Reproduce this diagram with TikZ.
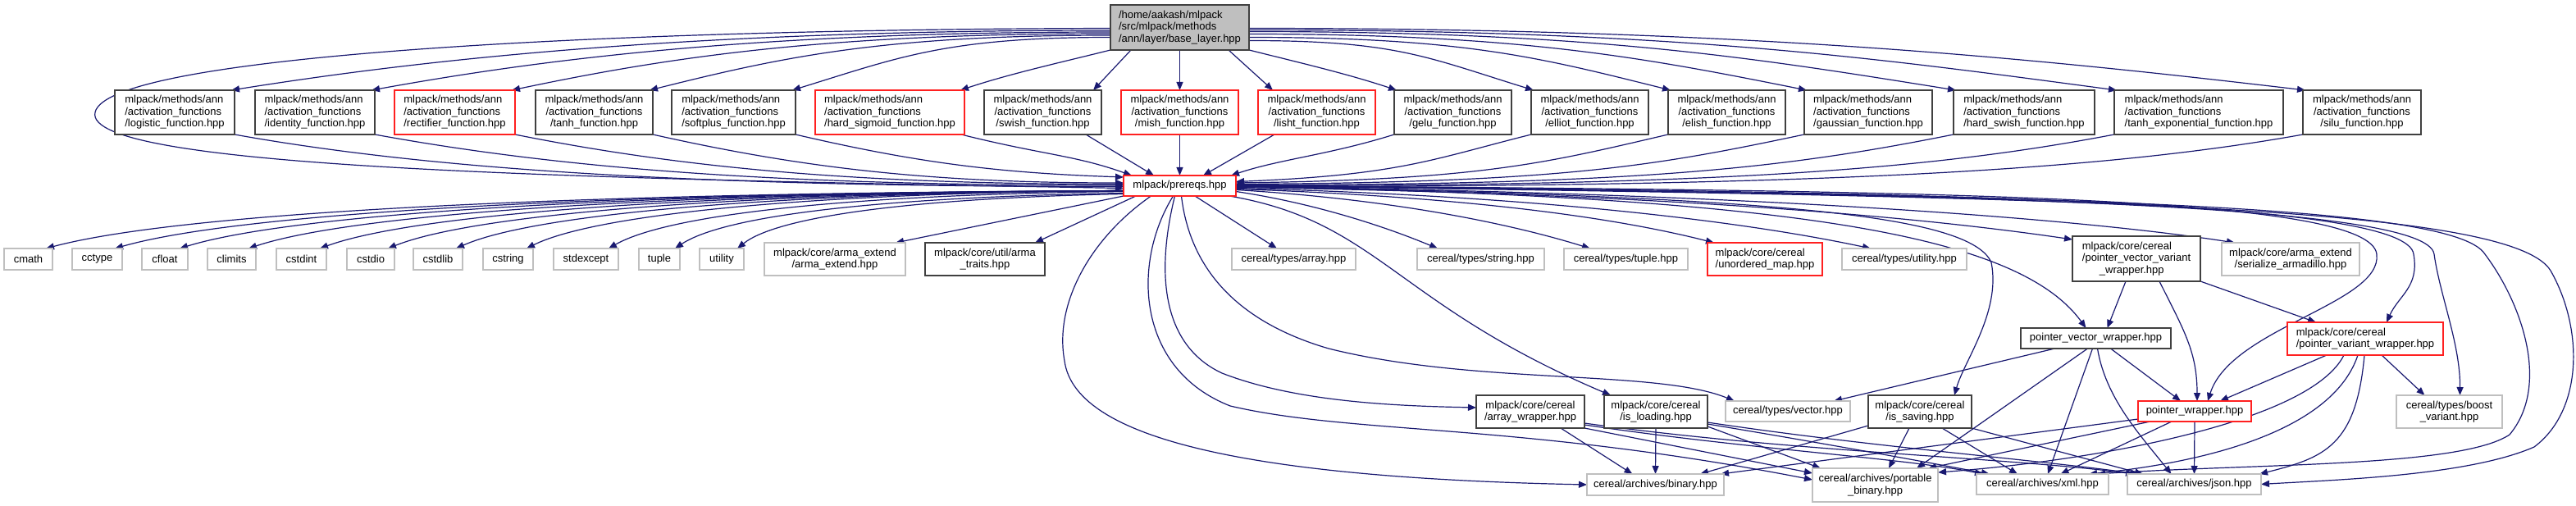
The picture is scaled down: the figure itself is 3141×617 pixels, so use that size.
\documentclass[tikz,border=0pt]{standalone}
\usepackage{fontspec}
\setmainfont{Liberation Sans}
\usetikzlibrary{arrows.meta}
\definecolor{ecol}{HTML}{191970}
\definecolor{gcol}{HTML}{BFBFBF}
\definecolor{dcol}{HTML}{404040}
\definecolor{rcol}{HTML}{FF2020}
\definecolor{basefill}{HTML}{BFBFBF}
\pgfdeclarelayer{bg}
\pgfsetlayers{bg,main}
\newcommand\gfnt{\fontsize{13}{14.5}\selectfont}
\tikzset{
  lbl/.style={inner sep=0pt, outer sep=0pt, font=\gfnt, fill=white, align=center},
  gbox/.style={lbl, draw=gcol, line width=1.6pt},
  dbox/.style={lbl, draw=dcol, line width=2pt},
  rbox/.style={lbl, draw=rcol, line width=1.6pt},
  bbox/.style={lbl, draw=dcol, fill=basefill, line width=2pt},
  wh/.style 2 args={minimum width=#1pt, minimum height=#2pt},
  lft/.style={align=left},
  conn/.style={draw=ecol, line width=1.2pt, -{Triangle[length=10pt,width=8pt]}},
}
\begin{document}
\begin{tikzpicture}[x=1pt,y=-1pt]
\useasboundingbox (0,0) rectangle (3141,617);
% ---------- nodes ----------
\node[bbox, lft, wh={169}{55}] (base) at (1438.5,33.5) {/home/aakash/mlpack\\/src/mlpack/methods\\/ann/layer/base\_layer.hpp};
\node[dbox, lft, wh={146}{54}] (logistic) at (213,137) {mlpack/methods/ann\\/activation\_functions\\/logistic\_function.hpp};
\node[dbox, lft, wh={146}{54}] (identity) at (384,137) {mlpack/methods/ann\\/activation\_functions\\/identity\_function.hpp};
\node[rbox, lft, wh={147}{54}] (rectifier) at (554.5,137) {mlpack/methods/ann\\/activation\_functions\\/rectifier\_function.hpp};
\node[dbox, wh={143}{54}] (tanh) at (724.5,137) {mlpack/methods/ann\\/activation\_functions\\/tanh\_function.hpp};
\node[dbox, lft, wh={151}{54}] (softplus) at (894.5,137) {mlpack/methods/ann\\/activation\_functions\\/softplus\_function.hpp};
\node[rbox, lft, wh={182}{54}] (hardsig) at (1085,137) {mlpack/methods/ann\\/activation\_functions\\/hard\_sigmoid\_function.hpp};
\node[dbox, wh={143}{54}] (swish) at (1271.5,137) {mlpack/methods/ann\\/activation\_functions\\/swish\_function.hpp};
\node[rbox, wh={143}{54}] (mish) at (1438.5,137) {mlpack/methods/ann\\/activation\_functions\\/mish\_function.hpp};
\node[rbox, wh={143}{54}] (lisht) at (1605.5,137) {mlpack/methods/ann\\/activation\_functions\\/lisht\_function.hpp};
\node[dbox, wh={143}{54}] (gelu) at (1771.5,137) {mlpack/methods/ann\\/activation\_functions\\/gelu\_function.hpp};
\node[dbox, wh={143}{54}] (elliot) at (1938.5,137) {mlpack/methods/ann\\/activation\_functions\\/elliot\_function.hpp};
\node[dbox, wh={143}{54}] (elish) at (2105.5,137) {mlpack/methods/ann\\/activation\_functions\\/elish\_function.hpp};
\node[dbox, lft, wh={156}{54}] (gaussian) at (2278,137) {mlpack/methods/ann\\/activation\_functions\\/gaussian\_function.hpp};
\node[dbox, lft, wh={172}{54}] (hardswish) at (2468,137) {mlpack/methods/ann\\/activation\_functions\\/hard\_swish\_function.hpp};
\node[dbox, lft, wh={206}{54}] (tanhexp) at (2681,137) {mlpack/methods/ann\\/activation\_functions\\/tanh\_exponential\_function.hpp};
\node[dbox, wh={144}{54}] (silu) at (2880,137) {mlpack/methods/ann\\/activation\_functions\\/silu\_function.hpp};
\node[rbox, wh={137}{25}] (prereqs) at (1438.5,226.5) {mlpack/prereqs.hpp};
% row 3
\node[gbox, wh={59}{26}] (cmath) at (34.5,316) {cmath};
\node[gbox, wh={61}{26}] (cctype) at (118.5,316) {cctype};
\node[gbox, wh={56}{26}] (cfloat) at (201,316) {cfloat};
\node[gbox, wh={59}{26}] (climits) at (282.5,316) {climits};
\node[gbox, wh={61}{26}] (cstdint) at (367.5,316) {cstdint};
\node[gbox, wh={58}{26}] (cstdio) at (452,316) {cstdio};
\node[gbox, wh={60}{26}] (cstdlib) at (534,316) {cstdlib};
\node[gbox, wh={61}{26}] (cstring) at (619.5,316) {cstring};
\node[gbox, wh={79}{26}] (stdexcept) at (714.5,316) {stdexcept};
\node[gbox, wh={50}{26}] (tuple) at (804,316) {tuple};
\node[gbox, wh={54}{26}] (utility) at (880,316) {utility};
\node[gbox, wh={172}{40}] (armaext) at (1018,316) {mlpack/core/arma\_extend\\/arma\_extend.hpp};
\node[dbox, wh={146}{40}] (armatraits) at (1201,316) {mlpack/core/util/arma\\\_traits.hpp};
\node[gbox, wh={151}{26}] (array) at (1577.5,316) {cereal/types/array.hpp};
\node[gbox, wh={155}{26}] (string) at (1805.5,316) {cereal/types/string.hpp};
\node[gbox, wh={151}{26}] (tuplehpp) at (1982.5,316) {cereal/types/tuple.hpp};
\node[rbox, lft, wh={140}{40}] (unordered) at (2152,316) {mlpack/core/cereal\\/unordered\_map.hpp};
\node[gbox, wh={152}{26}] (utilityhpp) at (2322,316) {cereal/types/utility.hpp};
\node[dbox, lft, wh={156}{55}] (pvvw) at (2605,315.5) {mlpack/core/cereal\\/pointer\_vector\_variant\\\hspace*{21pt}\_wrapper.hpp};
\node[gbox, wh={168}{40}] (serialize) at (2793,316) {mlpack/core/arma\_extend\\/serialize\_armadillo.hpp};
% row 4
\node[dbox, wh={183}{25}] (pvectorw) at (2555.5,412.5) {pointer\_vector\_wrapper.hpp};
\node[rbox, lft, wh={190}{40}] (pvw) at (2884,413) {mlpack/core/cereal\\/pointer\_variant\_wrapper.hpp};
% row 5
\node[dbox, wh={132}{40}] (arrwrap) at (1866,502) {mlpack/core/cereal\\/array\_wrapper.hpp};
\node[dbox, wh={126}{40}] (isload) at (2019,502) {mlpack/core/cereal\\/is\_loading.hpp};
\node[gbox, wh={152}{25}] (vector) at (2180,501.5) {cereal/types/vector.hpp};
\node[dbox, wh={126}{40}] (issave) at (2341,502) {mlpack/core/cereal\\/is\_saving.hpp};
\node[rbox, wh={138}{25}] (ptrwrap) at (2676,501.5) {pointer\_wrapper.hpp};
\node[gbox, wh={129}{40}] (boost) at (2986.5,502) {cereal/types/boost\\\_variant.hpp};
% row 6
\node[gbox, wh={167}{26}] (binary) at (2018.5,591) {cereal/archives/binary.hpp};
\node[gbox, wh={153}{41}] (portable) at (2286.5,591.5) {cereal/archives/portable\\\_binary.hpp};
\node[gbox, wh={161}{25}] (xml) at (2490.5,590.5) {cereal/archives/xml.hpp};
\node[gbox, wh={163}{25}] (json) at (2675.5,590.5) {cereal/archives/json.hpp};
% waypoints
\coordinate (loopL) at (116,137);
\coordinate (isW) at (2428,320);
\coordinate (pwW) at (2898,310);
\coordinate (pvwW) at (2943,310);
\coordinate (bW) at (2968,310);
\coordinate (xW1) at (3030,310);
\coordinate (xW2) at (3060,530);
\coordinate (jW1) at (3110,330);
\coordinate (jW2) at (3090,545);
\coordinate (bnW) at (1298,440);
\coordinate (ptW) at (1500,495);
\coordinate (awW) at (1490,455);
\coordinate (vW) at (1620,425);
% ---------- edges ----------
\begin{pgfonlayer}{bg}
% base -> activation functions
\draw[conn] ([yshift=-3.5pt]base.west) .. controls +(-500,0) and +(250,-40) .. ([xshift=-4pt]logistic.north east);
\draw[conn] ([yshift=-5.5pt]base.west) .. controls +(-420,0) and +(220,-40) .. ([xshift=-4pt]identity.north east);
\draw[conn] ([yshift=-7.5pt]base.west) .. controls +(-350,0) and +(190,-40) .. ([xshift=-4pt]rectifier.north east);
\draw[conn] ([yshift=-9.5pt]base.west) .. controls +(-280,0) and +(160,-40) .. ([xshift=-4pt]tanh.north east);
\draw[conn] ([yshift=-12pt]base.west) .. controls +(-200,0) and +(130,-40) .. ([xshift=-4pt]softplus.north east);
\draw[conn] (base.south west) .. controls +(-60,15) and +(60,-20) .. ([xshift=-5pt]hardsig.north east);
\draw[conn] ([xshift=25pt]base.south west) -- ([xshift=-10pt]swish.north east);
\draw[conn] (base.south) -- (mish.north);
\draw[conn] ([xshift=-25pt]base.south east) -- ([xshift=18pt]lisht.north west);
\draw[conn] (base.south east) .. controls +(60,15) and +(-60,-20) .. ([xshift=3pt]gelu.north west);
\draw[conn] ([yshift=-16pt]base.east) .. controls +(180,0) and +(-130,-40) .. ([xshift=3pt]elliot.north west);
\draw[conn] ([yshift=-12pt]base.east) .. controls +(260,0) and +(-160,-40) .. ([xshift=3pt]elish.north west);
\draw[conn] ([yshift=-8pt]base.east) .. controls +(330,0) and +(-200,-40) .. ([xshift=3pt]gaussian.north west);
\draw[conn] ([yshift=-5pt]base.east) .. controls +(420,0) and +(-250,-40) .. ([xshift=3pt]hardswish.north west);
\draw[conn] ([yshift=-3pt]base.east) .. controls +(520,0) and +(-300,-40) .. ([xshift=3pt]tanhexp.north west);
\draw[conn] ([yshift=-1pt]base.east) .. controls +(600,0) and +(-340,-40) .. ([xshift=3pt]silu.north west);
% base -> prereqs (loop)
\draw[conn] ([yshift=-1pt]base.west) .. controls (700,36) and (130,70) .. (loopL) .. controls (100,205) and (700,218) .. ([yshift=-3pt]prereqs.west);
% activation functions -> prereqs
\draw[conn] (logistic.south east) .. controls +(250,45) and +(-500,0) .. ([yshift=-1pt]prereqs.west);
\draw[conn] (identity.south east) .. controls +(230,42) and +(-420,0) .. ([yshift=0.5pt]prereqs.west);
\draw[conn] (rectifier.south east) .. controls +(200,40) and +(-330,0) .. ([yshift=2pt]prereqs.west);
\draw[conn] (tanh.south east) .. controls +(170,38) and +(-250,0) .. ([yshift=3.5pt]prereqs.west);
\draw[conn] (softplus.south east) .. controls +(150,35) and +(-150,-5) .. ([yshift=-2pt]prereqs.north west);
\draw[conn] ([xshift=-4pt]hardsig.south east) .. controls +(100,25) and +(-70,-25) .. ([xshift=10pt]prereqs.north west);
\draw[conn] ([xshift=-19pt]swish.south east) -- ([xshift=37pt]prereqs.north west);
\draw[conn] (mish.south) -- (prereqs.north);
\draw[conn] ([xshift=20pt]lisht.south west) -- ([xshift=-40pt]prereqs.north east);
\draw[conn] (gelu.south west) .. controls +(-80,25) and +(60,-20) .. ([xshift=-6pt]prereqs.north east);
\draw[conn] (elliot.south west) .. controls +(-120,30) and +(200,-8) .. ([yshift=5pt]prereqs.east);
\draw[conn] (elish.south west) .. controls +(-150,35) and +(300,-4) .. ([yshift=3.5pt]prereqs.east);
\draw[conn] (gaussian.south west) .. controls +(-180,38) and +(400,-2) .. ([yshift=2pt]prereqs.east);
\draw[conn] (hardswish.south west) .. controls +(-200,40) and +(500,0) .. ([yshift=1pt]prereqs.east);
\draw[conn] (tanhexp.south west) .. controls +(-220,42) and +(600,0) .. (prereqs.east);
\draw[conn] (silu.south west) .. controls +(-250,45) and +(700,0) .. ([yshift=-1pt]prereqs.east);
% prereqs -> left row
\draw[conn] ([yshift=-6pt]prereqs.west) .. controls +(-750,3) and +(150,-40) .. ([xshift=-8pt]cmath.north east);
\draw[conn] ([yshift=-6pt]prereqs.west) .. controls +(-700,3) and +(140,-40) .. ([xshift=-9pt]cctype.north east);
\draw[conn] ([yshift=-6pt]prereqs.west) .. controls +(-650,3) and +(130,-40) .. ([xshift=-10pt]cfloat.north east);
\draw[conn] ([yshift=-6pt]prereqs.west) .. controls +(-600,3) and +(120,-40) .. ([xshift=-9pt]climits.north east);
\draw[conn] ([yshift=-6pt]prereqs.west) .. controls +(-550,3) and +(110,-40) .. ([xshift=-8pt]cstdint.north east);
\draw[conn] ([yshift=-6pt]prereqs.west) .. controls +(-500,3) and +(100,-40) .. ([xshift=-8pt]cstdio.north east);
\draw[conn] ([yshift=-6pt]prereqs.west) .. controls +(-450,3) and +(90,-40) .. ([xshift=-8pt]cstdlib.north east);
\draw[conn] ([yshift=-6pt]prereqs.west) .. controls +(-400,3) and +(80,-40) .. ([xshift=-8pt]cstring.north east);
\draw[conn] ([yshift=-7pt]prereqs.west) .. controls +(-350,4) and +(70,-40) .. ([xshift=-12pt]stdexcept.north east);
\draw[conn] ([yshift=-9pt]prereqs.west) .. controls +(-300,5) and +(60,-40) .. ([xshift=-6pt]tuple.north east);
\draw[conn] ([yshift=-10pt]prereqs.west) .. controls +(-250,5) and +(50,-40) .. ([xshift=-8pt]utility.north east);
\draw[conn] (prereqs.south west) -- ([xshift=-12pt]armaext.north east);
\draw[conn] ([xshift=15pt]prereqs.south west) -- ([xshift=-12pt]armatraits.north east);
\draw[conn] ([xshift=-50pt]prereqs.south east) -- ([xshift=55pt]array.north west);
% prereqs -> right row
\draw[conn] ([yshift=-7pt]prereqs.east) .. controls +(100,15) and +(-60,-25) .. ([xshift=25pt]string.north west);
\draw[conn] ([yshift=-5pt]prereqs.east) .. controls +(200,12) and +(-90,-28) .. ([xshift=32pt]tuplehpp.north west);
\draw[conn] ([yshift=-4pt]prereqs.east) .. controls +(300,10) and +(-110,-28) .. ([xshift=8pt]unordered.north west);
\draw[conn] ([yshift=-3pt]prereqs.east) .. controls +(400,10) and +(-130,-28) .. ([xshift=35pt]utilityhpp.north west);
\draw[conn] ([yshift=-2pt]prereqs.east) .. controls +(550,8) and +(-170,-25) .. ([yshift=-4pt]pvvw.north west);
\draw[conn] ([yshift=-1pt]prereqs.east) .. controls +(650,8) and +(-180,-28) .. ([xshift=16pt]serialize.north west);
\draw[conn] ([yshift=-1pt]prereqs.east) .. controls +(700,12) and +(-80,-110) .. ([xshift=-12pt]pvectorw.north);
\draw[conn] (prereqs.east) .. controls (2100,240) and (2400,255) .. (isW) .. controls (2440,380) and (2395,440) .. ([xshift=42pt]issave.north);
\draw[conn] (prereqs.east) .. controls (2400,232) and (2890,240) .. (pwW) .. controls (2905,370) and (2720,400) .. ([xshift=16pt]ptrwrap.north);
\draw[conn] (prereqs.east) .. controls (2400,234) and (2935,245) .. (pvwW) .. controls (2950,350) and (2925,360) .. ([xshift=26pt]pvw.north);
\draw[conn] (prereqs.east) .. controls (2400,236) and (2960,248) .. (bW) .. controls (2975,360) and (3000,420) .. ([xshift=13pt]boost.north);
\draw[conn] (prereqs.east) .. controls (2450,238) and (2990,245) .. (xW1) .. controls (3075,370) and (3110,470) .. (xW2) .. controls (3000,570) and (2750,565) .. ([xshift=-14pt]xml.north east);
\draw[conn] (prereqs.east) .. controls (2500,240) and (3060,248) .. (jW1) .. controls (3150,400) and (3150,500) .. (jW2) .. controls (3010,580) and (2850,585) .. (json.east);
% prereqs -> lower nodes (loops below)
\draw[conn] ([xshift=-35pt]prereqs.south) .. controls (1330,290) and (1285,370) .. (bnW) .. controls (1310,530) and (1500,582) .. (binary.west);
\draw[conn] ([xshift=-8pt]prereqs.south) .. controls (1380,320) and (1385,450) .. (ptW) .. controls (1650,530) and (1850,515) .. ([yshift=-14pt]portable.north west);
\draw[conn] ([xshift=-6pt]prereqs.south) .. controls (1410,330) and (1415,420) .. (awW) .. controls (1580,490) and (1700,495) .. ([yshift=5pt]arrwrap.west);
\draw[conn] ([xshift=2pt]prereqs.south) .. controls (1450,320) and (1500,390) .. (vW) .. controls (1800,470) and (2020,450) .. ([xshift=11pt]vector.north west);
\draw[conn] ([xshift=-8pt]prereqs.south east) .. controls (1680,270) and (1700,370) .. ([xshift=8pt]isload.north west);
% array_wrapper
\draw[conn] ([xshift=-29pt]arrwrap.south east) -- ([xshift=-28pt]binary.north);
\draw[conn] (arrwrap.south east) -- ([yshift=-6pt]portable.north west);
\draw[conn] ([yshift=4pt]arrwrap.south east) .. controls +(200,30) and +(-100,-20) .. ([xshift=8pt]xml.north west);
\draw[conn] ([yshift=6pt]arrwrap.south east) .. controls +(250,35) and +(-150,-20) .. ([xshift=8pt]json.north west);
% is_loading
\draw[conn] (isload.south) -- (binary.north);
\draw[conn] ([yshift=2pt]isload.south east) -- ([xshift=10pt]portable.north west);
\draw[conn] ([yshift=5pt]isload.south east) .. controls +(150,25) and +(-80,-15) .. ([xshift=16pt]xml.north west);
\draw[conn] ([yshift=7pt]isload.south east) .. controls +(200,30) and +(-130,-18) .. ([xshift=14pt]json.north west);
% is_saving
\draw[conn] ([yshift=3pt]issave.south west) -- ([xshift=-29pt]binary.north east);
\draw[conn] ([xshift=-13pt]issave.south) -- ([xshift=16.5pt]portable.north);
\draw[conn] ([xshift=27pt]issave.south) -- ([xshift=50pt]xml.north west);
\draw[conn] (issave.south east) -- ([xshift=19pt]json.north west);
% pointer_vector_variant_wrapper
\draw[conn] ([xshift=-13pt]pvvw.south) -- ([xshift=14pt]pvectorw.north);
\draw[conn] ([xshift=28pt]pvvw.south) .. controls +(30,60) and +(0,-60) .. ([xshift=3pt]ptrwrap.north);
\draw[conn] (pvvw.south east) -- ([xshift=35pt]pvw.north west);
% pointer_vector_wrapper
\draw[conn] ([xshift=-50pt]pvectorw.south) -- ([xshift=-20pt]vector.north east);
\draw[conn] ([xshift=-10pt]pvectorw.south) -- ([xshift=-26pt]portable.north east);
\draw[conn] ([xshift=-4pt]pvectorw.south) -- ([xshift=6.5pt]xml.north);
\draw[conn] ([xshift=2pt]pvectorw.south) .. controls +(10,60) and +(-40,-50) .. ([xshift=-28pt]json.north);
\draw[conn] ([xshift=18pt]pvectorw.south) -- ([xshift=-17pt]ptrwrap.north);
% pointer_variant_wrapper
\draw[conn] ([xshift=-47pt]pvw.south) -- ([xshift=31pt]ptrwrap.north);
\draw[conn] ([xshift=-26pt]pvw.south) .. controls +(-40,80) and +(200,-15) .. ([yshift=-5pt]portable.north east);
\draw[conn] ([xshift=-9pt]pvw.south) .. controls +(-30,90) and +(150,-15) .. ([xshift=-24pt]xml.north east);
\draw[conn] ([xshift=-1pt]pvw.south) .. controls +(-10,110) and +(80,-20) .. ([xshift=-2pt]json.north east);
\draw[conn] ([xshift=20pt]pvw.south) -- ([xshift=-30pt]boost.north);
% pointer_wrapper
\draw[conn] ([yshift=3pt]ptrwrap.south west) -- ([xshift=-4pt]binary.north east);
\draw[conn] ([xshift=15pt]ptrwrap.south west) -- ([xshift=-12pt]portable.north east);
\draw[conn] ([xshift=41pt]ptrwrap.south west) -- ([xshift=22pt]xml.north);
\draw[conn] (ptrwrap.south) -- (json.north);
\end{pgfonlayer}
\end{tikzpicture}
\end{document}
